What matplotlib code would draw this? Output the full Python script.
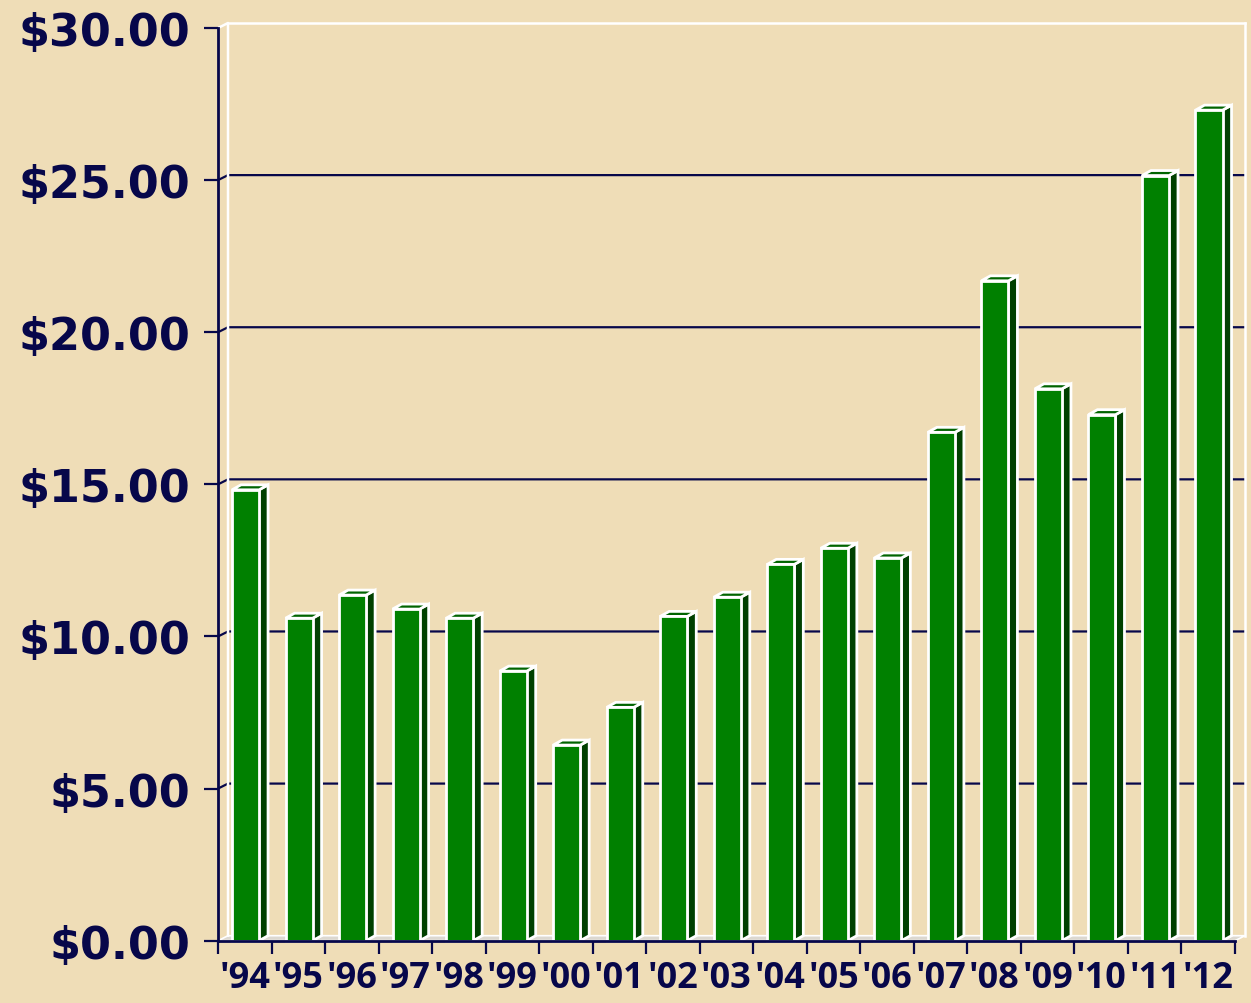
import matplotlib
matplotlib.use("Agg")
import matplotlib.pyplot as plt
from matplotlib.patches import Polygon, Rectangle

# yearly values, front-face height of each column
years = ["'94", "'95", "'96", "'97", "'98", "'99", "'00", "'01", "'02", "'03",
         "'04", "'05", "'06", "'07", "'08", "'09", "'10", "'11", "'12"]
values = [14.82, 10.60, 11.36, 10.90, 10.60, 8.86, 6.43, 7.67, 10.66, 11.29,
          12.37, 12.90, 12.58, 16.71, 21.69, 18.14, 17.29, 25.15, 27.30]
y_ticks = [0, 5, 10, 15, 20, 25, 30]
y_labels = ["$0.00", "$5.00", "$10.00", "$15.00", "$20.00", "$25.00", "$30.00"]

BG = "#EFDDB7"
NAVY = "#07074A"
FRONT = "#008000"
SIDE = "#004000"
TOP = "#006400"

W, H = 1251, 1004
fig = plt.figure(figsize=(W / 100, H / 100), dpi=100, facecolor=BG)

# axes placed in pixels: y axis at x=218, zero line at y=941.7, $30 at y=29
ax_left, ax_right = 218, 1235
ax_bottom, ax_top = 941.7, 29
ax = fig.add_axes([ax_left / W, (H - ax_bottom) / H,
                   (ax_right - ax_left) / W, (ax_bottom - ax_top) / H])
ax.set_facecolor("none")
n = len(years)
ax.set_xlim(0, n)
ax.set_ylim(0, 30)

px_x = n / (ax_right - ax_left)       # data units per pixel (x)
px_y = 30 / (ax_bottom - ax_top)      # data units per pixel (y)

# depth offset of the back wall and of the columns
wall_dx, wall_dy = 10 * px_x, 5 * px_y
bar_dx, bar_dy = 9 * px_x, 5 * px_y

# floor strip
floor = Polygon([(0, 0), (n, 0), (n + wall_dx, wall_dy), (wall_dx, wall_dy)],
                closed=True, facecolor="#DCD8D0", edgecolor="white", lw=1.2,
                clip_on=False, zorder=1)
ax.add_patch(floor)

# gridlines on the back wall
for v in y_ticks[1:-1]:
    ax.plot([0, wall_dx, n + wall_dx], [v, v + wall_dy, v + wall_dy],
            color=NAVY, lw=1.6, clip_on=False, zorder=1, solid_capstyle="butt")

# wall outline
ax.plot([0, wall_dx, wall_dx], [30, 30 + wall_dy, wall_dy],
        color="white", lw=1.8, clip_on=False, zorder=1)
ax.plot([wall_dx, n + wall_dx], [30 + wall_dy, 30 + wall_dy],
        color="white", lw=1.8, clip_on=False, zorder=1)
ax.plot([n + wall_dx, n + wall_dx], [wall_dy, 30 + wall_dy],
        color="white", lw=1.8, clip_on=False, zorder=1)

# 3D columns
bar_off, bar_w = 0.262, 0.505
for i, v in enumerate(values):
    x0 = i + bar_off
    x1 = x0 + bar_w
    side = Polygon([(x1, 0), (x1 + bar_dx, bar_dy), (x1 + bar_dx, v + bar_dy), (x1, v)],
                   closed=True, facecolor=SIDE, edgecolor="white", lw=2.0,
                   joinstyle="miter", clip_on=False, zorder=3)
    top = Polygon([(x0, v), (x0 + bar_dx, v + bar_dy), (x1 + bar_dx, v + bar_dy), (x1, v)],
                  closed=True, facecolor=TOP, edgecolor="white", lw=2.0,
                  joinstyle="miter", clip_on=False, zorder=3)
    front = Rectangle((x0, 0), bar_w, v, facecolor=FRONT, edgecolor="white",
                      lw=2.0, joinstyle="miter", clip_on=False, zorder=4)
    ax.add_patch(side)
    ax.add_patch(top)
    ax.add_patch(front)

# axes, ticks and labels
for s in ["top", "right"]:
    ax.spines[s].set_visible(False)
for s in ["left", "bottom"]:
    ax.spines[s].set_color(NAVY)
    ax.spines[s].set_linewidth(2.0)
    ax.spines[s].set_zorder(5)

ax.set_yticks(y_ticks)
ax.set_yticklabels(y_labels)
ax.set_xticks(range(n + 1))
ax.set_xticklabels([])
ax.set_xticks([i + 0.5 for i in range(n)], minor=True)
ax.set_xticklabels(years, minor=True)

ax.tick_params(axis="y", direction="out", length=10, width=1.6, color=NAVY,
               pad=10, labelsize=32, labelcolor=NAVY)
ax.tick_params(axis="x", which="major", direction="out", length=9, width=1.6,
               color=NAVY)
ax.tick_params(axis="x", which="minor", length=0, pad=14, labelsize=26,
               labelcolor=NAVY)
for lab in ax.get_yticklabels():
    lab.set_fontfamily("DejaVu Sans")
    lab.set_fontweight("bold")
for lab in ax.get_xticklabels(minor=True):
    lab.set_fontfamily("Open Sans")
    lab.set_fontweight("bold")

fig.savefig("out.png", dpi=100, facecolor=BG)
